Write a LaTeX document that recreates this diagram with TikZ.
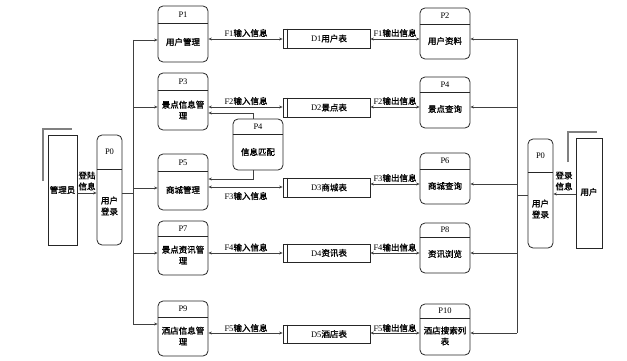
\documentclass[tikz,border=0pt]{standalone}
\usepackage{fontspec}
\setmainfont{Liberation Serif}
\newfontfamily\cjk[FakeBold=1.2]{Noto Sans CJK SC}
\usetikzlibrary{arrows.meta}
\newcommand\procnode[7][50]{%
  \node[procbox, minimum width=#1pt, minimum height={(#5-#4)*1pt}] (#2) at (#3,{(#4+#5)/2}) {};
  \draw[divline] (#2.west |- 0,#6) -- (#2.east |- 0,#6);
  \node[lbl] at (#3,{(#4+#6)/2}) {#7};
}
\newcommand\storenode[3]{%
  \node[storebox, minimum height={(#3-#2)*1pt}] (#1) at (326.5,{(#2+#3)/2}) {};
  \draw[divline] ([xshift=5pt]#1.north west) -- ([xshift=5pt]#1.south west);
}
\begin{document}
\begin{tikzpicture}[x=1pt,y=-1pt,
  procbox/.style={draw=black!85, line width=0.8pt, rounded corners=5pt, inner sep=0pt},
  storebox/.style={draw=black!85, line width=0.8pt, minimum width=87pt, inner sep=0pt},
  entbox/.style={draw=black!85, line width=0.8pt, inner sep=0pt},
  divline/.style={draw=black!85, line width=0.8pt},
  shade/.style={draw=black!50, line width=1.2pt},
  lbl/.style={font=\fontsize{8.5}{10}\selectfont, inner sep=0pt},
  txt/.style={font=\fontsize{8.5}{11}\selectfont\cjk, align=center, inner sep=0pt},
  conn/.style={draw=black!75, line width=0.9pt},
  arr/.style={conn, -{Stealth[length=3.5pt,width=3pt]}},
  dbl/.style={conn, {Stealth[length=3.5pt,width=3pt]}-{Stealth[length=3.5pt,width=3pt]}},
  flab/.style={font=\fontsize{8.5}{10}\selectfont, inner sep=0pt}]
\useasboundingbox (0,0) rectangle (627,361);

% external entities
\draw[shade] (43,181) -- (43,129) -- (72,129);
\node[entbox, minimum width=29pt, minimum height=110pt] (adm) at (62.5,190) {};
\node[txt] at (62.5,190) {管理员};
\draw[shade] (568,162) -- (568,132) -- (597,132);
\node[entbox, minimum width=26pt, minimum height=110pt] (usr) at (589,193) {};
\node[txt] at (589,192) {用户};

% login processes
\procnode[25]{p0l}{109.5}{135}{245}{169}{P0}
\node[txt] at (109.5,206) {用户\\登录};
\procnode[25]{p0r}{540.5}{139}{248}{172}{P0}
\node[txt] at (540.5,209) {用户\\登录};

% left column
\procnode{p1}{183}{6}{62}{23}{P1}
\node[txt] at (183,42) {用户管理};
\procnode{p3}{183}{73}{130}{90}{P3}
\node[txt] at (183,110) {景点信息管\\理};
\procnode{p5}{183}{154}{210}{171}{P5}
\node[txt] at (183,190) {商城管理};
\procnode{p7}{183}{221}{275}{236}{P7}
\node[txt] at (183,255) {景点资讯管\\理};
\procnode{p9}{183}{301}{356}{317}{P9}
\node[txt] at (183,336) {酒店信息管\\理};

% right column
\procnode{p2}{445}{8}{59}{24}{P2}
\node[txt] at (445,41) {用户资料};
\procnode{p4}{445}{77}{128}{92}{P4}
\node[txt] at (445,109) {景点查询};
\procnode{p6}{445}{153}{204}{169}{P6}
\node[txt] at (445,186) {商城查询};
\procnode{p8}{445}{223}{273}{237}{P8}
\node[txt] at (445,254) {资讯浏览};
\procnode{p10}{445}{304}{355}{318}{P10}
\node[txt] at (445,336) {酒店搜索列\\表};

% matching process
\procnode{pm}{258}{119}{170}{134}{P4}
\node[txt] at (258,152) {信息匹配};

% data stores
\storenode{d1}{29}{48}
\node[lbl] at (329,38.5) {D1{\cjk 用户表}};
\storenode{d2}{98}{117}
\node[lbl] at (329,107.5) {D2{\cjk 景点表}};
\storenode{d3}{178}{197}
\node[lbl] at (329,187.5) {D3{\cjk 商城表}};
\storenode{d4}{244}{262}
\node[lbl] at (329,253) {D4{\cjk 资讯表}};
\storenode{d5}{325}{343}
\node[lbl] at (329,334) {D5{\cjk 酒店表}};

% entity -> login
\draw[arr] (adm.east |- 0,193) -- (p0l.west |- 0,193);
\node[txt] at (87,181) {登陆\\信息};
\draw[arr] (usr.west |- 0,194) -- (p0r.east |- 0,194);
\node[txt] at (564,181) {登录\\信息};

% left trunk
\coordinate (tl0) at (133,193);
\coordinate (tl1) at (133,40);
\coordinate (tl3) at (133,107);
\coordinate (tl5) at (133,188);
\coordinate (tl7) at (133,253);
\coordinate (tl9) at (133,324);
\draw[conn] (p0l.east |- tl0) -- (tl0);
\draw[conn] (tl1) -- (tl9);
\foreach \t/\p in {tl1/p1, tl3/p3, tl5/p5, tl7/p7, tl9/p9}
  \draw[arr] (\t) -- (\p.west |- \t);

% right trunk
\coordinate (tr0) at (517,195);
\coordinate (tr2) at (517,39);
\coordinate (tr4) at (517,107);
\coordinate (tr6) at (517,184);
\coordinate (tr8) at (517,253);
\coordinate (tr10) at (517,333);
\draw[conn] (p0r.west |- tr0) -- (tr0);
\draw[conn] (tr2) -- (tr10);
\foreach \t/\p in {tr2/p2, tr4/p4, tr6/p6, tr8/p8, tr10/p10}
  \draw[arr] (\t) -- (\p.east |- \t);

% flows process <-> stores (left)
\draw[dbl] (p1.east |- 0,39) -- (d1.west |- 0,39);
\node[flab] at (246,33) {F1{\cjk 输入信息}};
\draw[dbl] (p3.east |- 0,107) -- (d2.west |- 0,107);
\node[flab] at (246,101) {F2{\cjk 输入信息}};
\draw[dbl] (p5.east |- 0,187) -- (d3.west |- 0,187);
\node[flab] at (246,196) {F3{\cjk 输入信息}};
\draw[dbl] (p7.east |- 0,253) -- (d4.west |- 0,253);
\node[flab] at (246,247.5) {F4{\cjk 输入信息}};
\draw[dbl] (p9.east |- 0,333) -- (d5.west |- 0,333);
\node[flab] at (246,328) {F5{\cjk 输入信息}};

% flows stores <-> process (right)
\draw[dbl] (d1.east |- 0,39) -- (p2.west |- 0,39);
\node[flab] at (395,33) {F1{\cjk 输出信息}};
\draw[dbl] (d2.east |- 0,107) -- (p4.west |- 0,107);
\node[flab] at (395,101) {F2{\cjk 输出信息}};
\draw[dbl] (d3.east |- 0,184) -- (p6.west |- 0,184);
\node[flab] at (395,178) {F3{\cjk 输出信息}};
\draw[dbl] (d4.east |- 0,253) -- (p8.west |- 0,253);
\node[flab] at (395,247.5) {F4{\cjk 输出信息}};
\draw[dbl] (d5.east |- 0,333) -- (p10.west |- 0,333);
\node[flab] at (395,328) {F5{\cjk 输出信息}};

% matching links
\coordinate (mt) at (253,113);
\coordinate (mb) at (253,179);
\draw[arr] (pm.north -| mt) -- (mt) -- (p3.east |- mt);
\draw[arr] (pm.south -| mb) -- (mb) -- (p5.east |- mb);
\end{tikzpicture}
\end{document}
